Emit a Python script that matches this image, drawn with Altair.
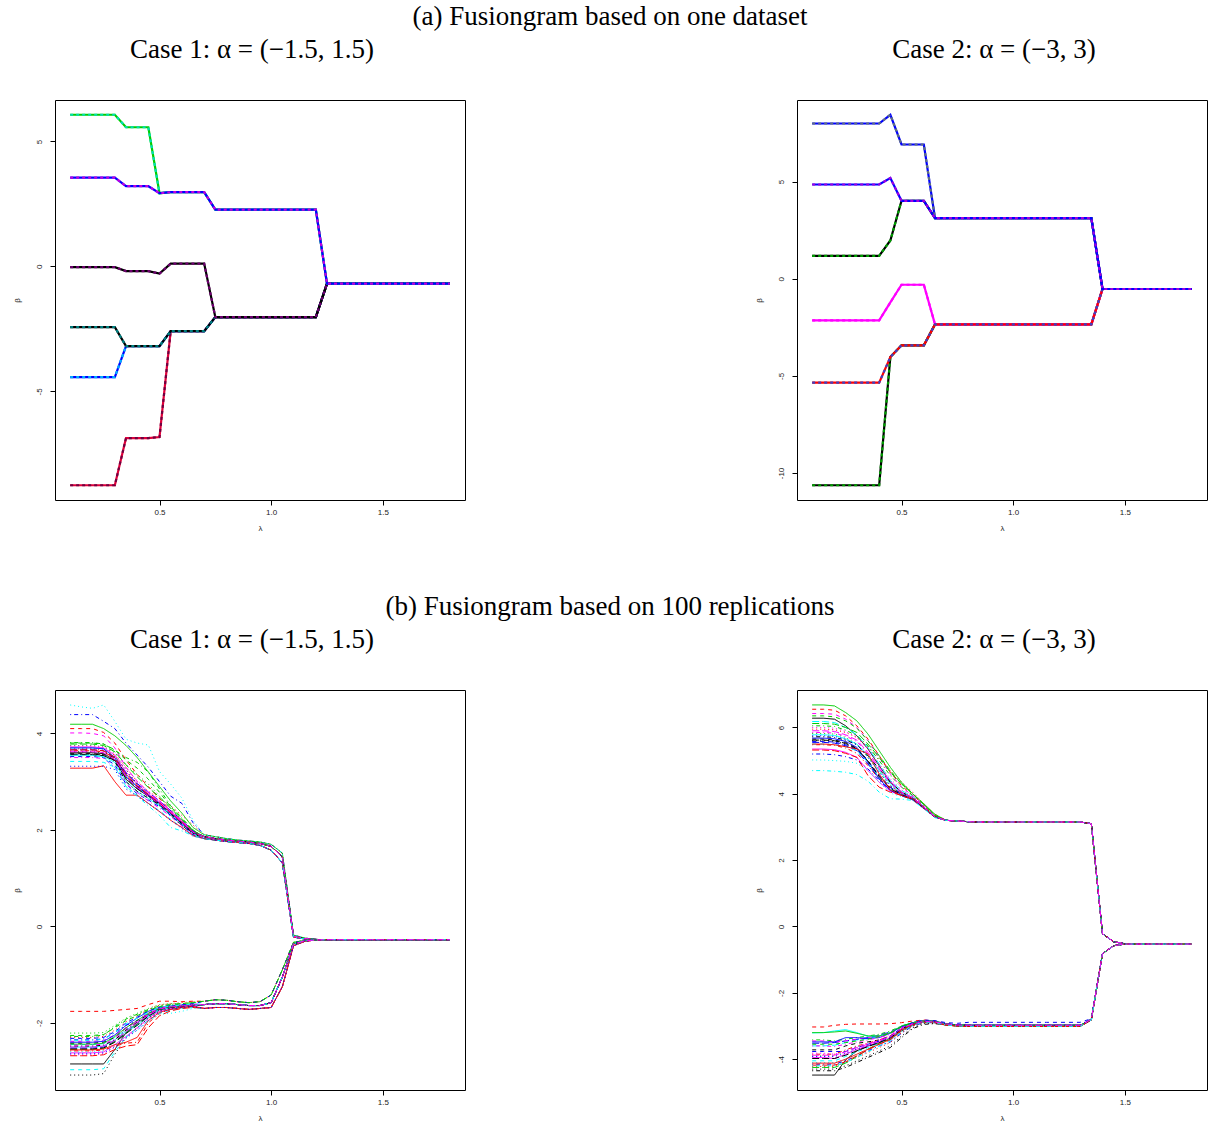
import altair as alt
import pandas as pd

# ---------------- data ----------------
LAM = [0.10, 0.15, 0.20, 0.25, 0.30, 0.35, 0.40, 0.45, 0.50, 0.55, 0.60, 0.65,
       0.70, 0.75, 0.80, 0.85, 0.90, 0.95, 1.00, 1.05, 1.10, 1.15, 1.20, 1.25,
       1.30, 1.35, 1.40, 1.45, 1.50, 1.55, 1.60, 1.65, 1.70, 1.75, 1.80]

# (a) Case 1: one dataset, six fused paths
T1_A = [6.07, 6.07, 6.07, 6.07, 6.07, 5.57, 5.57, 5.57, 2.93, 2.97, 2.97, 2.97, 2.97,
        2.27, 2.27, 2.27, 2.27, 2.27, 2.27, 2.27, 2.27, 2.27, 2.27,
        -0.69, -0.69, -0.69, -0.69, -0.69, -0.69, -0.69, -0.69, -0.69, -0.69, -0.69, -0.69]
T1_B = [3.55, 3.55, 3.55, 3.55, 3.55, 3.21, 3.21, 3.21, 2.93, 2.97, 2.97, 2.97, 2.97,
        2.27, 2.27, 2.27, 2.27, 2.27, 2.27, 2.27, 2.27, 2.27, 2.27,
        -0.69, -0.69, -0.69, -0.69, -0.69, -0.69, -0.69, -0.69, -0.69, -0.69, -0.69, -0.69]
T1_C = [-0.03, -0.03, -0.03, -0.03, -0.03, -0.19, -0.19, -0.19, -0.29, 0.11, 0.11, 0.11, 0.11,
        -2.03, -2.03, -2.03, -2.03, -2.03, -2.03, -2.03, -2.03, -2.03, -2.03,
        -0.69, -0.69, -0.69, -0.69, -0.69, -0.69, -0.69, -0.69, -0.69, -0.69, -0.69, -0.69]
T1_D = [-2.43, -2.43, -2.43, -2.43, -2.43, -3.19, -3.19, -3.19, -3.19, -2.59, -2.59, -2.59, -2.59,
        -2.03, -2.03, -2.03, -2.03, -2.03, -2.03, -2.03, -2.03, -2.03, -2.03,
        -0.69, -0.69, -0.69, -0.69, -0.69, -0.69, -0.69, -0.69, -0.69, -0.69, -0.69, -0.69]
T1_E = [-4.43, -4.43, -4.43, -4.43, -4.43, -3.19, -3.19, -3.19, -3.19, -2.59, -2.59, -2.59, -2.59,
        -2.03, -2.03, -2.03, -2.03, -2.03, -2.03, -2.03, -2.03, -2.03, -2.03,
        -0.69, -0.69, -0.69, -0.69, -0.69, -0.69, -0.69, -0.69, -0.69, -0.69, -0.69, -0.69]
T1_F = [-8.76, -8.76, -8.76, -8.76, -8.76, -6.87, -6.87, -6.87, -6.83, -2.59, -2.59, -2.59, -2.59,
        -2.03, -2.03, -2.03, -2.03, -2.03, -2.03, -2.03, -2.03, -2.03, -2.03,
        -0.69, -0.69, -0.69, -0.69, -0.69, -0.69, -0.69, -0.69, -0.69, -0.69, -0.69, -0.69]

# (a) Case 2: one dataset, six fused paths
T2_A = [7.99, 7.99, 7.99, 7.99, 7.99, 7.99, 7.99, 8.44, 6.91, 6.91, 6.91,
        3.12, 3.12, 3.12, 3.12, 3.12, 3.12, 3.12, 3.12, 3.12, 3.12, 3.12, 3.12, 3.12, 3.12, 3.12,
        -0.53, -0.53, -0.53, -0.53, -0.53, -0.53, -0.53, -0.53, -0.53]
T2_B = [4.85, 4.85, 4.85, 4.85, 4.85, 4.85, 4.85, 5.18, 4.01, 4.01, 4.01,
        3.12, 3.12, 3.12, 3.12, 3.12, 3.12, 3.12, 3.12, 3.12, 3.12, 3.12, 3.12, 3.12, 3.12, 3.12,
        -0.53, -0.53, -0.53, -0.53, -0.53, -0.53, -0.53, -0.53, -0.53]
T2_C = [1.18, 1.18, 1.18, 1.18, 1.18, 1.18, 1.18, 1.97, 4.01, 4.01, 4.01,
        3.12, 3.12, 3.12, 3.12, 3.12, 3.12, 3.12, 3.12, 3.12, 3.12, 3.12, 3.12, 3.12, 3.12, 3.12,
        -0.53, -0.53, -0.53, -0.53, -0.53, -0.53, -0.53, -0.53, -0.53]
T2_D = [-2.14, -2.14, -2.14, -2.14, -2.14, -2.14, -2.14, -1.22, -0.31, -0.31, -0.31,
        -2.35, -2.35, -2.35, -2.35, -2.35, -2.35, -2.35, -2.35, -2.35, -2.35, -2.35, -2.35, -2.35, -2.35, -2.35,
        -0.53, -0.53, -0.53, -0.53, -0.53, -0.53, -0.53, -0.53, -0.53]
T2_E = [-5.35, -5.35, -5.35, -5.35, -5.35, -5.35, -5.35, -4.03, -3.43, -3.43, -3.43,
        -2.35, -2.35, -2.35, -2.35, -2.35, -2.35, -2.35, -2.35, -2.35, -2.35, -2.35, -2.35, -2.35, -2.35, -2.35,
        -0.53, -0.53, -0.53, -0.53, -0.53, -0.53, -0.53, -0.53, -0.53]
T2_F = [-10.63, -10.63, -10.63, -10.63, -10.63, -10.63, -10.63, -4.03, -3.43, -3.43, -3.43,
        -2.35, -2.35, -2.35, -2.35, -2.35, -2.35, -2.35, -2.35, -2.35, -2.35, -2.35, -2.35, -2.35, -2.35, -2.35,
        -0.53, -0.53, -0.53, -0.53, -0.53, -0.53, -0.53, -0.53, -0.53]

# (b) replications: values at lambda 0.10 ... 0.65 per replication,
# followed by one of a few shared fused paths from lambda 0.70 on.
P3_UP_HEADS = [
    [3.60, 3.60, 3.60, 3.58, 3.45, 3.05, 2.85, 2.70, 2.55, 2.35, 2.15, 1.95],
    [4.10, 4.10, 4.10, 4.02, 3.80, 3.45, 3.15, 2.90, 2.65, 2.40, 2.20, 1.98],
    [3.75, 3.75, 3.75, 3.72, 3.60, 3.35, 3.15, 2.95, 2.70, 2.45, 2.20, 1.97],
    [4.39, 4.39, 4.39, 4.25, 4.10, 3.80, 3.55, 3.30, 3.00, 2.70, 2.55, 2.15],
    [3.70, 3.70, 3.70, 3.68, 3.50, 3.10, 2.90, 2.70, 2.52, 2.32, 2.12, 1.93],
    [3.72, 3.72, 3.72, 3.70, 3.55, 3.20, 2.95, 2.75, 2.58, 2.38, 2.18, 1.97],
    [3.58, 3.58, 3.58, 3.56, 3.50, 3.15, 2.90, 2.72, 2.52, 2.30, 2.10, 1.90],
    [3.68, 3.68, 3.68, 3.65, 3.55, 3.30, 3.00, 2.80, 2.65, 2.50, 2.30, 2.10],
    [3.81, 3.81, 3.81, 3.78, 3.65, 3.50, 3.40, 3.20, 2.85, 2.50, 2.25, 2.00],
    [3.66, 3.66, 3.66, 3.64, 3.50, 3.18, 2.96, 2.78, 2.60, 2.40, 2.20, 1.98],
    [3.55, 3.55, 3.55, 3.52, 3.40, 3.00, 2.80, 2.65, 2.50, 2.32, 2.12, 1.93],
    [4.01, 4.01, 4.00, 3.95, 3.70, 3.30, 3.00, 2.78, 2.60, 2.40, 2.20, 1.98],
    [3.62, 3.62, 3.62, 3.60, 3.52, 3.25, 2.95, 2.70, 2.50, 2.30, 2.10, 1.92],
    [3.64, 3.64, 3.64, 3.62, 3.48, 3.12, 2.90, 2.72, 2.55, 2.36, 2.16, 1.95],
    [3.78, 3.78, 3.78, 3.75, 3.62, 3.35, 3.10, 2.88, 2.68, 2.45, 2.22, 1.98],
    [3.70, 3.70, 3.70, 3.68, 3.50, 3.10, 2.90, 2.72, 2.55, 2.35, 2.15, 1.95],
    [3.42, 3.42, 3.42, 3.40, 3.30, 2.90, 2.72, 2.55, 2.40, 2.22, 2.05, 1.88],
    [3.74, 3.74, 3.74, 3.72, 3.58, 3.28, 3.02, 2.80, 2.60, 2.40, 2.18, 1.96],
    [3.57, 3.57, 3.57, 3.55, 3.42, 3.00, 2.80, 2.66, 2.52, 2.33, 2.13, 1.93],
    [3.66, 3.66, 3.66, 3.64, 3.50, 3.15, 2.92, 2.74, 2.56, 2.36, 2.16, 1.95],
    [4.19, 4.19, 4.19, 4.10, 3.95, 3.75, 3.50, 3.20, 2.90, 2.60, 2.35, 2.05],
    [3.52, 3.52, 3.52, 3.50, 3.35, 2.95, 2.75, 2.62, 2.48, 2.30, 2.10, 1.90],
    [4.59, 4.55, 4.52, 4.59, 4.25, 3.88, 3.80, 3.76, 3.21, 2.95, 2.66, 2.20],
    [3.50, 3.50, 3.50, 3.48, 3.30, 2.95, 2.78, 2.60, 2.45, 2.28, 2.08, 1.90],
    [3.56, 3.56, 3.56, 3.54, 3.44, 3.08, 2.86, 2.70, 2.54, 2.34, 2.14, 1.94],
    [3.28, 3.28, 3.28, 3.33, 3.00, 2.72, 2.72, 2.55, 2.38, 2.20, 2.05, 1.88],
    [3.80, 3.80, 3.80, 3.78, 3.66, 3.45, 3.28, 3.05, 2.78, 2.48, 2.24, 1.99],
    [3.32, 3.32, 3.32, 3.32, 3.25, 2.85, 2.70, 2.55, 2.38, 2.20, 2.03, 1.87],
    [3.55, 3.55, 3.55, 3.50, 3.30, 2.90, 2.70, 2.50, 2.30, 2.05, 1.98, 1.88],
    [3.62, 3.62, 3.62, 3.60, 3.46, 3.10, 2.88, 2.70, 2.54, 2.35, 2.15, 1.95],
]
P3_UP_TAILS = [
    [1.90, 1.86, 1.82, 1.79, 1.77, 1.75, 1.70, 1.52, -0.18, -0.24, -0.27,
     -0.275, -0.275, -0.275, -0.275, -0.275, -0.275, -0.275, -0.275, -0.275, -0.275, -0.275, -0.275],
    [1.86, 1.82, 1.79, 1.77, 1.75, 1.72, 1.66, 1.44, -0.20, -0.25, -0.27,
     -0.275, -0.275, -0.275, -0.275, -0.275, -0.275, -0.275, -0.275, -0.275, -0.275, -0.275, -0.275],
    [1.82, 1.79, 1.76, 1.74, 1.72, 1.68, 1.58, 1.32, -0.22, -0.26, -0.27,
     -0.275, -0.275, -0.275, -0.275, -0.275, -0.275, -0.275, -0.275, -0.275, -0.275, -0.275, -0.275],
]
P3_UP_TAIL_ID = [1, 1, 1, 0, 2, 1, 2, 0, 1, 1, 2, 1, 2, 1, 1, 1, 2, 1, 2, 1, 0, 2, 0, 2, 1, 2, 1, 2, 2, 1]

P3_LO_HEADS = [
    [-2.85, -2.85, -2.85, -2.85, -2.55, -2.20, -2.00, -1.85, -1.72, -1.68, -1.66, -1.63],
    [-1.76, -1.76, -1.76, -1.76, -1.74, -1.72, -1.70, -1.62, -1.55, -1.55, -1.56, -1.55],
    [-2.21, -2.21, -2.21, -2.20, -2.05, -1.90, -1.80, -1.70, -1.62, -1.60, -1.60, -1.58],
    [-2.35, -2.35, -2.35, -2.33, -2.20, -2.05, -1.95, -1.82, -1.70, -1.65, -1.63, -1.62],
    [-2.45, -2.45, -2.45, -2.43, -2.30, -2.15, -2.00, -1.85, -1.72, -1.68, -1.66, -1.64],
    [-2.62, -2.62, -2.62, -2.60, -2.45, -2.28, -2.10, -1.90, -1.75, -1.70, -1.67, -1.65],
    [-2.42, -2.42, -2.42, -2.40, -2.30, -2.10, -1.95, -1.80, -1.70, -1.66, -1.64, -1.62],
    [-2.30, -2.30, -2.30, -2.28, -2.15, -1.98, -1.85, -1.72, -1.63, -1.60, -1.58, -1.56],
    [-2.28, -2.28, -2.28, -2.25, -2.08, -1.92, -1.82, -1.72, -1.65, -1.62, -1.60, -1.58],
    [-2.52, -2.52, -2.52, -2.50, -2.38, -2.20, -2.02, -1.85, -1.72, -1.68, -1.66, -1.64],
    [-2.50, -2.50, -2.50, -2.48, -2.35, -2.18, -2.05, -1.88, -1.73, -1.69, -1.67, -1.65],
    [-2.38, -2.38, -2.38, -2.36, -2.25, -2.10, -1.98, -1.82, -1.70, -1.66, -1.64, -1.62],
    [-3.08, -3.08, -3.08, -3.05, -2.65, -2.30, -2.10, -1.90, -1.75, -1.70, -1.68, -1.66],
    [-2.58, -2.58, -2.58, -2.56, -2.48, -2.42, -2.40, -2.00, -1.80, -1.72, -1.68, -1.66],
    [-2.55, -2.55, -2.55, -2.52, -2.38, -2.20, -2.02, -1.86, -1.72, -1.68, -1.66, -1.64],
    [-2.40, -2.40, -2.40, -2.38, -2.25, -2.05, -1.90, -1.76, -1.68, -1.65, -1.63, -1.61],
    [-2.97, -2.97, -2.97, -2.95, -2.60, -2.30, -2.10, -1.95, -1.80, -1.74, -1.70, -1.68],
    [-2.66, -2.66, -2.66, -2.64, -2.50, -2.30, -2.12, -1.92, -1.76, -1.70, -1.67, -1.65],
    [-2.48, -2.48, -2.48, -2.46, -2.35, -2.15, -1.98, -1.82, -1.70, -1.66, -1.64, -1.62],
    [-2.68, -2.68, -2.68, -2.66, -2.55, -2.48, -2.45, -2.10, -1.85, -1.75, -1.70, -1.68],
    [-2.44, -2.44, -2.44, -2.42, -2.28, -2.10, -1.95, -1.80, -1.70, -1.66, -1.64, -1.62],
    [-2.32, -2.32, -2.32, -2.30, -2.18, -2.00, -1.88, -1.75, -1.67, -1.64, -1.62, -1.60],
    [-2.60, -2.60, -2.60, -2.58, -2.45, -2.28, -2.15, -1.98, -1.82, -1.80, -1.76, -1.70],
    [-2.46, -2.46, -2.46, -2.44, -2.32, -2.12, -1.96, -1.80, -1.70, -1.66, -1.64, -1.62],
    [-2.54, -2.54, -2.54, -2.52, -2.40, -2.22, -2.05, -1.86, -1.72, -1.68, -1.66, -1.64],
    [-2.56, -2.56, -2.56, -2.54, -2.45, -2.40, -2.30, -1.95, -1.78, -1.72, -1.68, -1.66],
    [-2.26, -2.26, -2.26, -2.24, -2.10, -1.95, -1.85, -1.74, -1.66, -1.62, -1.60, -1.58],
    [-2.64, -2.64, -2.64, -2.62, -2.50, -2.32, -2.15, -1.95, -1.78, -1.72, -1.68, -1.66],
    [-2.36, -2.36, -2.36, -2.34, -2.20, -2.02, -1.90, -1.78, -1.68, -1.65, -1.63, -1.61],
    [-2.50, -2.50, -2.50, -2.48, -2.36, -2.18, -2.00, -1.84, -1.71, -1.67, -1.65, -1.63],
]
P3_LO_TAILS = [
    [-1.55, -1.52, -1.53, -1.56, -1.58, -1.56, -1.42, -0.90, -0.33, -0.29, -0.28,
     -0.275, -0.275, -0.275, -0.275, -0.275, -0.275, -0.275, -0.275, -0.275, -0.275, -0.275, -0.275],
    [-1.62, -1.60, -1.60, -1.62, -1.64, -1.64, -1.58, -1.05, -0.36, -0.30, -0.28,
     -0.275, -0.275, -0.275, -0.275, -0.275, -0.275, -0.275, -0.275, -0.275, -0.275, -0.275, -0.275],
    [-1.70, -1.68, -1.68, -1.70, -1.72, -1.70, -1.68, -1.25, -0.40, -0.31, -0.28,
     -0.275, -0.275, -0.275, -0.275, -0.275, -0.275, -0.275, -0.275, -0.275, -0.275, -0.275, -0.275],
]
P3_LO_TAIL_ID = [1, 0, 0, 1, 1, 2, 1, 0, 0, 1, 1, 1, 2, 2, 1, 1, 2, 2, 1, 2, 1, 0, 2, 1, 1, 2, 0, 2, 1, 1]

P4_UP_HEADS = [
    [6.28, 6.28, 6.25, 6.05, 5.75, 5.35, 4.85, 4.35, 4.05, 3.88, 3.60, 3.30],
    [6.55, 6.55, 6.52, 6.35, 6.05, 5.65, 5.15, 4.65, 4.25, 3.95, 3.68, 3.38],
    [5.82, 5.82, 5.80, 5.70, 5.50, 5.10, 4.65, 4.25, 4.00, 3.85, 3.58, 3.30],
    [5.20, 5.20, 5.18, 5.12, 5.02, 4.75, 4.40, 4.10, 3.95, 3.82, 3.56, 3.30],
    [6.18, 6.18, 6.15, 6.00, 5.78, 5.40, 4.90, 4.40, 4.10, 3.92, 3.62, 3.32],
    [5.35, 5.35, 5.33, 5.25, 5.10, 4.70, 4.35, 4.08, 3.95, 3.82, 3.56, 3.30],
    [5.65, 5.65, 5.62, 5.55, 5.38, 5.00, 4.55, 4.20, 4.00, 3.85, 3.58, 3.30],
    [5.95, 5.95, 5.93, 5.85, 5.70, 5.40, 5.05, 4.70, 4.35, 4.05, 3.70, 3.35],
    [6.05, 6.05, 6.03, 5.92, 5.75, 5.45, 5.00, 4.55, 4.20, 3.95, 3.65, 3.33],
    [5.55, 5.55, 5.53, 5.45, 5.30, 4.90, 4.45, 4.12, 3.96, 3.83, 3.57, 3.30],
    [5.78, 5.78, 5.76, 5.66, 5.50, 5.15, 4.70, 4.30, 4.02, 3.86, 3.58, 3.30],
    [6.42, 6.42, 6.40, 6.25, 6.00, 5.60, 5.10, 4.60, 4.20, 3.95, 3.66, 3.35],
    [5.60, 5.60, 5.58, 5.50, 5.35, 4.95, 4.50, 4.15, 3.98, 3.84, 3.57, 3.30],
    [5.48, 5.48, 5.46, 5.38, 5.22, 4.85, 4.45, 4.20, 4.02, 3.88, 3.62, 3.32],
    [6.12, 6.12, 6.10, 6.00, 5.85, 5.50, 5.10, 4.65, 4.30, 4.00, 3.68, 3.35],
    [5.68, 5.68, 5.66, 5.58, 5.40, 4.95, 4.45, 4.10, 3.95, 3.82, 3.56, 3.30],
    [5.50, 5.50, 5.48, 5.42, 5.30, 4.95, 4.50, 4.15, 3.96, 3.83, 3.57, 3.30],
    [6.00, 6.00, 5.98, 5.88, 5.70, 5.35, 4.90, 4.45, 4.12, 3.92, 3.62, 3.32],
    [5.72, 5.72, 5.70, 5.62, 5.48, 5.15, 4.75, 4.35, 4.05, 3.88, 3.60, 3.31],
    [5.32, 5.32, 5.30, 5.22, 5.10, 4.55, 4.20, 4.05, 3.95, 3.82, 3.56, 3.30],
    [6.68, 6.68, 6.65, 6.45, 6.20, 5.80, 5.30, 4.80, 4.35, 4.00, 3.70, 3.38],
    [5.58, 5.58, 5.56, 5.48, 5.34, 4.98, 4.55, 4.20, 3.98, 3.84, 3.58, 3.30],
    [5.02, 5.02, 5.00, 4.98, 4.92, 4.70, 4.35, 4.02, 3.92, 3.82, 3.56, 3.30],
    [5.85, 5.85, 5.83, 5.74, 5.58, 5.20, 4.75, 4.32, 4.02, 3.86, 3.58, 3.30],
    [5.62, 5.62, 5.60, 5.52, 5.36, 4.98, 4.52, 4.16, 3.97, 3.84, 3.57, 3.30],
    [5.50, 5.50, 5.48, 5.42, 5.35, 5.20, 4.60, 4.12, 3.95, 3.85, 3.58, 3.30],
    [6.35, 6.35, 6.32, 6.20, 5.98, 5.60, 5.15, 4.70, 4.30, 4.00, 3.68, 3.35],
    [5.75, 5.75, 5.73, 5.64, 5.48, 5.10, 4.65, 4.25, 4.00, 3.85, 3.58, 3.30],
    [4.70, 4.70, 4.68, 4.65, 4.58, 4.38, 4.05, 3.85, 3.84, 3.80, 3.55, 3.28],
    [5.90, 5.90, 5.88, 5.78, 5.62, 5.25, 4.80, 4.38, 4.05, 3.88, 3.60, 3.31],
]
P4_UP_TAILS = [
    [3.20, 3.18, 3.16, 3.15, 3.15, 3.15, 3.15, 3.15, 3.15, 3.15, 3.15, 3.15, 3.15,
     3.10, -0.22, -0.46, -0.52, -0.53, -0.53, -0.53, -0.53, -0.53, -0.53],
]
P4_UP_TAIL_ID = [0, 0, 0, 0, 0, 0, 0, 0, 0, 0, 0, 0, 0, 0, 0,
                 0, 0, 0, 0, 0, 0, 0, 0, 0, 0, 0, 0, 0, 0, 0]

P4_LO_HEADS = [
    [-4.48, -4.48, -4.48, -4.02, -3.75, -3.60, -3.50, -3.40, -3.15, -2.98, -2.88, -2.90],
    [-3.03, -3.03, -2.98, -2.95, -2.94, -2.94, -2.94, -2.93, -2.90, -2.85, -2.82, -2.84],
    [-3.90, -3.90, -3.90, -3.75, -3.62, -3.55, -3.45, -3.32, -3.10, -2.95, -2.86, -2.88],
    [-4.15, -4.15, -4.15, -4.05, -3.90, -3.75, -3.60, -3.48, -3.22, -3.00, -2.90, -2.90],
    [-3.60, -3.60, -3.58, -3.50, -3.42, -3.38, -3.30, -3.20, -3.02, -2.90, -2.84, -2.86],
    [-3.95, -3.95, -3.98, -3.85, -3.70, -3.60, -3.48, -3.35, -3.10, -2.95, -2.86, -2.88],
    [-3.72, -3.72, -3.72, -3.60, -3.52, -3.48, -3.42, -3.30, -3.08, -2.94, -2.86, -2.88],
    [-4.22, -4.22, -4.22, -4.10, -3.95, -3.80, -3.65, -3.50, -3.20, -3.00, -2.88, -2.90],
    [-3.42, -3.42, -3.45, -3.40, -3.35, -3.30, -3.25, -3.15, -3.00, -2.90, -2.84, -2.86],
    [-3.52, -3.52, -3.50, -3.45, -3.40, -3.35, -3.28, -3.18, -3.02, -2.92, -2.85, -2.87],
    [-3.21, -3.20, -3.15, -3.11, -3.20, -3.31, -3.30, -3.20, -3.00, -2.90, -2.84, -2.86],
    [-3.45, -3.45, -3.48, -3.45, -3.40, -3.35, -3.30, -3.20, -3.02, -2.90, -2.84, -2.86],
    [-4.30, -4.30, -4.30, -4.20, -4.05, -3.90, -3.75, -3.60, -3.30, -3.05, -2.92, -2.92],
    [-3.85, -3.85, -3.85, -3.72, -3.60, -3.52, -3.42, -3.30, -3.08, -2.94, -2.86, -2.88],
    [-4.25, -4.25, -4.25, -4.12, -3.92, -3.70, -3.52, -3.38, -3.12, -2.96, -2.87, -2.89],
    [-3.48, -3.48, -3.48, -3.35, -3.35, -3.38, -3.35, -3.22, -3.02, -2.90, -2.84, -2.86],
    [-4.05, -4.05, -4.05, -3.92, -3.78, -3.65, -3.52, -3.38, -3.12, -2.96, -2.87, -2.89],
    [-3.82, -3.82, -3.85, -3.75, -3.62, -3.52, -3.42, -3.30, -3.06, -2.93, -2.85, -2.87],
    [-4.35, -4.35, -4.35, -4.25, -4.10, -3.95, -3.80, -3.65, -3.35, -3.08, -2.95, -2.93],
    [-4.18, -4.18, -4.18, -4.08, -3.90, -3.72, -3.55, -3.42, -3.15, -2.98, -2.88, -2.90],
    [-3.20, -3.20, -3.18, -3.15, -3.22, -3.30, -3.30, -3.20, -3.00, -2.90, -2.84, -2.86],
    [-3.77, -3.77, -3.77, -3.77, -3.65, -3.55, -3.45, -3.32, -3.05, -2.90, -2.82, -2.84],
    [-4.10, -4.10, -4.10, -4.00, -3.85, -3.70, -3.56, -3.42, -3.15, -2.97, -2.88, -2.90],
    [-3.60, -3.60, -3.62, -3.55, -3.48, -3.42, -3.35, -3.25, -3.05, -2.92, -2.85, -2.87],
    [-3.98, -3.98, -3.98, -3.88, -3.75, -3.62, -3.50, -3.36, -3.10, -2.95, -2.86, -2.88],
    [-4.12, -4.12, -4.12, -4.00, -3.85, -3.70, -3.55, -3.40, -3.12, -2.96, -2.87, -2.89],
    [-3.55, -3.55, -3.55, -3.50, -3.45, -3.40, -3.32, -3.22, -3.03, -2.91, -2.85, -2.87],
    [-3.92, -3.92, -3.92, -3.82, -3.70, -3.58, -3.46, -3.34, -3.08, -2.94, -2.86, -2.88],
    [-4.20, -4.20, -4.20, -4.10, -3.95, -3.78, -3.60, -3.45, -3.18, -2.98, -2.88, -2.90],
    [-3.88, -3.88, -3.88, -3.78, -3.65, -3.55, -3.44, -3.32, -3.08, -2.94, -2.86, -2.88],
]
P4_LO_TAILS = [
    [-2.94, -2.97, -2.98, -2.98, -2.98, -2.98, -2.98, -2.98, -2.98, -2.98, -2.98, -2.98, -2.98,
     -2.80, -0.82, -0.58, -0.53, -0.53, -0.53, -0.53, -0.53, -0.53, -0.53],
    [-2.90, -2.92, -2.89, -2.89, -2.89, -2.89, -2.89, -2.89, -2.89, -2.89, -2.89, -2.89, -2.89,
     -2.78, -0.82, -0.58, -0.53, -0.53, -0.53, -0.53, -0.53, -0.53, -0.53],
    [-2.97, -3.00, -3.01, -3.01, -3.01, -3.01, -3.01, -3.01, -3.01, -3.01, -3.01, -3.01, -3.01,
     -2.82, -0.82, -0.58, -0.53, -0.53, -0.53, -0.53, -0.53, -0.53, -0.53],
]
P4_LO_TAIL_ID = [2, 0, 0, 2, 0, 0, 0, 2, 0, 0, 0, 0, 2, 0, 2, 0, 2, 0, 2, 2, 0, 1, 0, 0, 0, 2, 0, 0, 2, 0]

X_TICKS = [0.5, 1.0, 1.5]
Y_TICKS_1 = [-5, 0, 5]
Y_TICKS_2 = [-10, -5, 0, 5]
Y_TICKS_3 = [-2, 0, 2, 4]
Y_TICKS_4 = [-4, -2, 0, 2, 4, 6]

# ---------------- styling (R matplot defaults) ----------------
R_COL_NAMES = ["black", "red", "green3", "blue", "cyan", "magenta"]
R_COL_HEX = ["#000000", "#FF0000", "#00CD00", "#0000FF", "#00FFFF", "#FF00FF"]
LTY_NAMES = ["solid", "dashed", "dotted", "dotdash", "longdash"]
LTY_DASH = [[1, 0], [4, 4], [1, 3], [1, 3, 4, 3], [7, 3]]

W, H = 410, 400
SERIF = "Liberation Serif"
SANS = "Liberation Sans"
X_DOMAIN = [0.032, 1.868]
TITLE_SIZE = 27


def enc_x():
    return alt.X("lam:Q", scale=alt.Scale(domain=X_DOMAIN, nice=False, zero=False),
                 axis=alt.Axis(values=X_TICKS, format=".1f", title="λ",
                               labelPadding=3, titlePadding=8))


def enc_y(dom, ticks):
    return alt.Y("beta:Q", scale=alt.Scale(domain=dom, nice=False, zero=False),
                 axis=alt.Axis(values=ticks, title="β", labelAngle=270,
                               labelAlign="center", labelBaseline="bottom",
                               labelPadding=7, titlePadding=14,
                               labelExpr="replace(datum.label, '\u2212', '-')"))


def panel_title(text):
    return alt.TitleParams(text, anchor="middle", offset=36, fontSize=TITLE_SIZE, font=SERIF,
                           fontWeight="normal", dx=-8)


def top_panel(paths, order, styles, ydom, yticks, title):
    rows = []
    for name in order:
        for lam, b in zip(LAM, paths[name]):
            rows.append({"path": name, "lam": lam, "beta": b})
    df = pd.DataFrame(rows)
    layers = []
    for name in order:
        c1, c2 = styles[name]
        base = alt.Chart(df).transform_filter(alt.datum.path == name).mark_line(
            color=c1, strokeWidth=2.2).encode(x=enc_x(), y=enc_y(ydom, yticks))
        over = alt.Chart(df).transform_filter(alt.datum.path == name).mark_line(
            color=c2, strokeWidth=2.2, strokeDash=[3, 3]).encode(x=enc_x(), y=enc_y(ydom, yticks))
        layers += [base, over]
    return alt.layer(*layers).properties(width=W, height=H, title=panel_title(title))


def rep_panel(groups, ydom, yticks, title):
    rows = []
    for gname, heads, tails, tail_id in groups:
        for i, h in enumerate(heads):
            vals = h + tails[tail_id[i]]
            for lam, b in zip(LAM, vals):
                rows.append({"series": f"{gname}{i:02d}", "lam": lam, "beta": b,
                             "col": R_COL_NAMES[i % 6], "lty": LTY_NAMES[i % 5]})
    df = pd.DataFrame(rows)
    return alt.Chart(df).mark_line(strokeWidth=1).encode(
        x=enc_x(), y=enc_y(ydom, yticks),
        color=alt.Color("col:N", scale=alt.Scale(domain=R_COL_NAMES, range=R_COL_HEX), legend=None),
        strokeDash=alt.StrokeDash("lty:N", scale=alt.Scale(domain=LTY_NAMES, range=LTY_DASH), legend=None),
        detail="series:N",
    ).properties(width=W, height=H, title=panel_title(title))


p1 = top_panel({"A": T1_A, "B": T1_B, "C": T1_C, "D": T1_D, "E": T1_E, "F": T1_F},
               ["F", "E", "D", "C", "A", "B"],
               {"A": ("#00CD00", "#00E0B0"), "B": ("#0000FF", "#C000E0"),
                "C": ("#000000", "#700070"), "D": ("#000000", "#008080"),
                "E": ("#0000FF", "#00B0FF"), "F": ("#E0003A", "#700040")},
               [-9.35, 6.66], Y_TICKS_1, "Case 1: α = (−1.5, 1.5)")
p2 = top_panel({"A": T2_A, "B": T2_B, "C": T2_C, "D": T2_D, "E": T2_E, "F": T2_F},
               ["F", "D", "E", "C", "A", "B"],
               {"A": ("#0000FF", "#607080"), "B": ("#0000FF", "#A000E0"),
                "C": ("#000000", "#00A000"), "D": ("#FF00FF", "#FF00FF"),
                "E": ("#FF0000", "#4040C0"), "F": ("#000000", "#00A000")},
               [-11.39, 9.20], Y_TICKS_2, "Case 2: α = (−3, 3)")
p3 = rep_panel([("u", P3_UP_HEADS, P3_UP_TAILS, P3_UP_TAIL_ID),
                ("l", P3_LO_HEADS, P3_LO_TAILS, P3_LO_TAIL_ID)],
               [-3.39, 4.90], Y_TICKS_3, "Case 1: α = (−1.5, 1.5)")
p4 = rep_panel([("u", P4_UP_HEADS, P4_UP_TAILS, P4_UP_TAIL_ID),
                ("l", P4_LO_HEADS, P4_LO_TAILS, P4_LO_TAIL_ID)],
               [-4.93, 7.13], Y_TICKS_4, "Case 2: α = (−3, 3)")

row_a = alt.hconcat(p1, p2, spacing=288).properties(
    title=alt.TitleParams("(a) Fusiongram based on one dataset", anchor="middle",
                          offset=5, fontSize=TITLE_SIZE, font=SERIF, fontWeight="normal"))
row_b = alt.hconcat(p3, p4, spacing=288).properties(
    title=alt.TitleParams("(b) Fusiongram based on 100 replications", anchor="middle",
                          offset=5, fontSize=TITLE_SIZE, font=SERIF, fontWeight="normal"))

chart = alt.vconcat(row_a, row_b, spacing=59).properties(
    padding={"left": 12, "top": 2, "right": 0, "bottom": 0}
).configure_view(
    stroke="black", strokeWidth=1
).configure_axis(
    domain=False, grid=False, tickColor="black", tickSize=5,
    labelFont=SANS, labelFontSize=8, labelColor="#222222",
    titleFont=SANS, titleFontSize=8, titleFontWeight="normal", titleColor="#222222"
).configure_title(
    font=SERIF, fontSize=TITLE_SIZE, fontWeight="normal", color="black"
)

chart.save("out.html", embed_options={"renderer": "svg", "actions": False})
